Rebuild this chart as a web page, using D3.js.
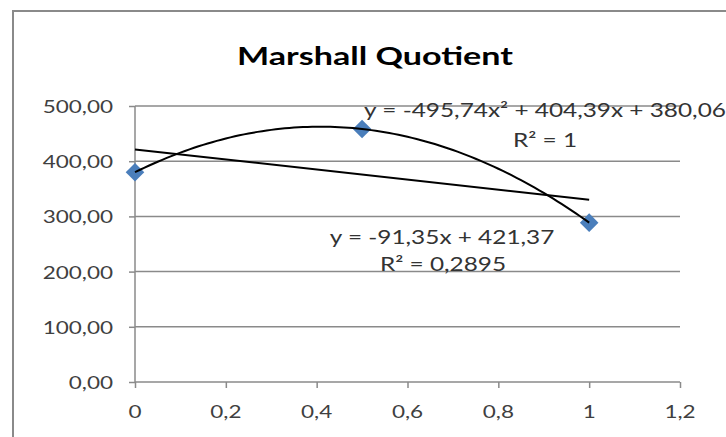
<!DOCTYPE html>
<html><head><meta charset="utf-8">
<script src="https://cdn.jsdelivr.net/npm/d3@7"></script>
<style>body{margin:0;background:#fff;overflow:hidden}svg{display:block}</style>
</head><body>
<svg id="c" width="726" height="437"></svg>
<script>
const title = "Marshall Quotient";
const xValues = [0, 0.5, 1];
const yValues = [380.06, 458.32, 288.71];
const xTicks = [0, 0.2, 0.4, 0.6, 0.8, 1, 1.2];
const yTicks = [0, 100, 200, 300, 400, 500];
const polyCoef = [380.06, 404.39, -495.74]; // c0 + c1 x + c2 x^2
const linCoef = [421.37, -91.35];
const polyLabel = ["y = -495,74x² + 404,39x + 380,06", "R² = 1"];
const linLabel = ["y = -91,35x + 421,37", "R² = 0,2895"];

const svg = d3.select("#c");
const FONT = "Lato, 'Open Sans', sans-serif";
const SX = 1.25;
const x = d3.scaleLinear().domain([0, 1.2]).range([135, 680]);
const y = d3.scaleLinear().domain([0, 500]).range([382, 106]);
const fmt = v => String(v).replace(".", ",");
const fmt2 = v => v.toFixed(2).replace(".", ",");

// outer border
svg.append("path").attr("d", "M13,437 L13,11 L726,11").attr("fill", "none")
  .attr("stroke", "#8a8a8a").attr("stroke-width", 2);

function stext(px, py, txt, opts) {
  const g = svg.append("g").attr("transform", `translate(${px},${py}) scale(${opts.sx || SX},1)`);
  return g.append("text").text(txt)
    .attr("font-family", FONT).attr("font-size", opts.size)
    .attr("font-weight", opts.weight || "normal")
    .attr("fill", opts.fill || "#404040")
    .attr("text-anchor", opts.anchor || "middle")
    .attr("dominant-baseline", "central");
}

stext(375, 56, title, {size: 24, weight: "bold", fill: "#000", sx: 1.42});

// gridlines
svg.append("g").selectAll("line").data(yTicks.filter(d => d > 0)).join("line")
  .attr("x1", x(0)).attr("x2", x(1.2)).attr("y1", d => y(d)).attr("y2", d => y(d))
  .attr("stroke", "#8a8a8a").attr("stroke-width", 1.5);

// axes
const yAxis = svg.append("g").attr("transform", `translate(${x(0)},0)`)
  .call(d3.axisLeft(y).tickValues(yTicks).tickSize(6).tickFormat(""));
const xAxis = svg.append("g").attr("transform", `translate(0,${y(0)})`)
  .call(d3.axisBottom(x).tickValues(xTicks).tickSize(6).tickFormat(""));
[yAxis, xAxis].forEach(a => {
  a.select(".domain").attr("stroke", "#8a8a8a").attr("stroke-width", 1.5);
  a.selectAll(".tick line").attr("stroke", "#8a8a8a").attr("stroke-width", 1.5);
});
xAxis.select(".domain").attr("d", `M${x(0)},0H${x(1.2)}`);
yAxis.select(".domain").attr("d", `M0,${y(0)}V${y(500)}`);

yTicks.forEach(v => stext(113 , y(v), fmt2(v), {size: 18, anchor: "end"}));
xTicks.forEach(v => stext(x(v), 411, fmt(v), {size: 18}));

// markers (drawn under trendlines)
svg.append("g").selectAll("path").data(xValues.map((v, i) => [v, yValues[i]])).join("path")
  .attr("d", d3.symbol(d3.symbolDiamond2, 220)())
  .attr("transform", d => `translate(${x(d[0])},${y(d[1])})`)
  .attr("fill", "#4a7ebb");

// trendlines
const xs = d3.range(0, 1.0001, 0.01);
const line = d3.line().x(d => x(d[0])).y(d => y(d[1]));
svg.append("path").datum(xs.map(t => [t, polyCoef[0] + polyCoef[1]*t + polyCoef[2]*t*t]))
  .attr("d", line).attr("fill", "none").attr("stroke", "#000").attr("stroke-width", 2);
svg.append("path").datum([0, 1].map(t => [t, linCoef[0] + linCoef[1]*t]))
  .attr("d", line).attr("fill", "none").attr("stroke", "#000").attr("stroke-width", 2);

// labels
stext(545, 109, polyLabel[0], {size: 19.5, fill: "#333"});
stext(545, 139, polyLabel[1], {size: 19.5, fill: "#333"});
stext(442, 236, linLabel[0], {size: 19.5, fill: "#333"});
stext(443, 263, linLabel[1], {size: 19.5, fill: "#333"});
</script>
</body></html>
